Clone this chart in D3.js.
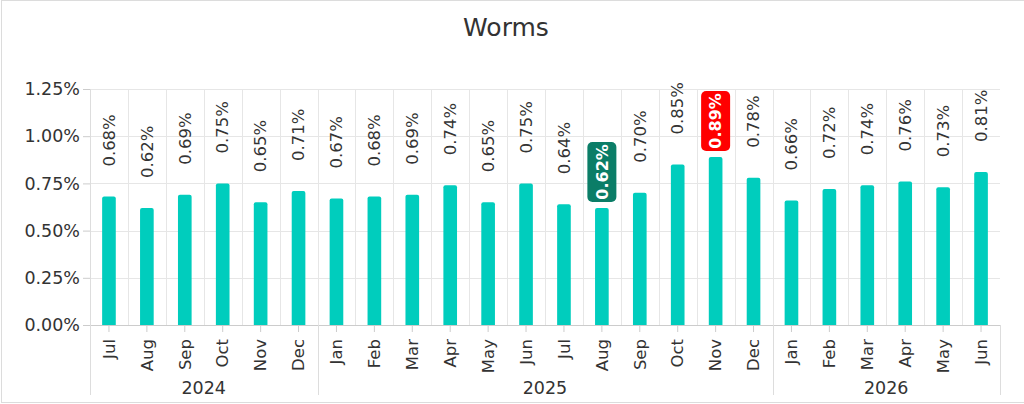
<!DOCTYPE html>
<html><head><meta charset="utf-8">
<script src="https://cdn.jsdelivr.net/npm/d3@7"></script>
<style>
html,body{margin:0;padding:0;background:#fff;}
svg{display:block;font-family:"DejaVu Sans",sans-serif;}
</style></head>
<body>
<svg id="chart" width="1024" height="404"></svg>
<script>
const title = "Worms";
const months = ["Jul","Aug","Sep","Oct","Nov","Dec","Jan","Feb","Mar","Apr","May","Jun","Jul","Aug","Sep","Oct","Nov","Dec","Jan","Feb","Mar","Apr","May","Jun"];
const years = ["2024","2024","2024","2024","2024","2024","2025","2025","2025","2025","2025","2025","2025","2025","2025","2025","2025","2025","2026","2026","2026","2026","2026","2026"];
const values = [0.68,0.62,0.69,0.75,0.65,0.71,0.67,0.68,0.69,0.74,0.65,0.75,0.64,0.62,0.70,0.85,0.89,0.78,0.66,0.72,0.74,0.76,0.73,0.81];
const yTicks = [0,0.25,0.5,0.75,1.0,1.25];
const lowIndex = 13;   // highlighted minimum (green)
const highIndex = 16;  // highlighted maximum (red)

const W = 1024, H = 404;
const m = {left:90, right:24, top:89, bottom:79};
const svg = d3.select("#chart");
const ids = months.map((d,i)=>i);

svg.append("rect").attr("x",1.5).attr("y",0.5).attr("width",1040).attr("height",402)
  .attr("fill","none").attr("stroke","#dcdcdc");

const x = d3.scaleBand().domain(ids).range([m.left, W-m.right]).paddingInner(0.64).paddingOuter(0.32);
const y = d3.scaleLinear().domain([0,1.25]).range([H-m.bottom, m.top]);
const step = x.step();
const slotLeft = i => x(i) - step*0.32;

svg.append("text").attr("x",506).attr("y",36).attr("text-anchor","middle")
  .attr("font-size",25).attr("fill","#333").text(title);

// horizontal gridlines
svg.append("g").selectAll("line").data(yTicks.filter(t=>t>0)).join("line")
  .attr("x1",m.left).attr("x2",W-m.right).attr("y1",d=>Math.round(y(d))+0.5).attr("y2",d=>Math.round(y(d))+0.5)
  .attr("stroke","#e6e6e6");
// vertical gridlines between categories
svg.append("g").selectAll("line").data(ids).join("line")
  .attr("x1",d=>Math.round(slotLeft(d))+0.5).attr("x2",d=>Math.round(slotLeft(d))+0.5)
  .attr("y1",m.top).attr("y2",H-m.bottom).attr("stroke","#e6e6e6");

// y axis
const yAxis = svg.append("g").attr("transform",`translate(${m.left},0)`)
  .call(d3.axisLeft(y).tickValues(yTicks).tickFormat(d=>d3.format(".2f")(d)+"%").tickSize(7).tickPadding(3));
yAxis.select(".domain").remove();
yAxis.selectAll("line").attr("stroke","#ccc");
yAxis.selectAll("text").attr("font-size",17.5).attr("fill","#333").attr("font-family","DejaVu Sans");

// x axis
const xAxis = svg.append("g").attr("transform",`translate(0,${H-m.bottom})`)
  .call(d3.axisBottom(x).tickFormat(i=>months[i]).tickSize(7).tickSizeOuter(0));
xAxis.select(".domain").attr("stroke","#ccc");
xAxis.selectAll("line").attr("stroke","#ccc");
xAxis.selectAll("text").attr("font-size",16.5).attr("fill","#333").attr("font-family","DejaVu Sans")
  .attr("text-anchor","end").attr("transform","rotate(-90)")
  .attr("x",-14).attr("y",0).attr("dy","0.35em");

// year group separators and labels
const groups = d3.groups(ids, i=>years[i]);
const bounds = [m.left];
groups.forEach(([yr, idx])=>{ bounds.push(slotLeft(idx[idx.length-1])+step); });
svg.append("g").selectAll("line").data(bounds).join("line")
  .attr("x1",d=>Math.round(d)+0.5).attr("x2",d=>Math.round(d)+0.5)
  .attr("y1",(d,i)=> i===0 ? m.top : H-m.bottom).attr("y2",395).attr("stroke","#ddd");
svg.append("g").selectAll("text").data(groups).join("text")
  .attr("x",([yr,idx])=>(slotLeft(idx[0]) + slotLeft(idx[idx.length-1])+step)/2)
  .attr("y",394).attr("text-anchor","middle").attr("font-size",17.5).attr("fill","#333")
  .text(([yr])=>yr);

// bars with rounded tops
const r = 2;
svg.append("g").selectAll("path").data(ids).join("path")
  .attr("fill","#00cdbd")
  .attr("d", i=>{
    const x0 = x(i), w = x.bandwidth(), y0 = y(values[i]), yb = y(0);
    return `M${x0},${yb}V${y0+r}Q${x0},${y0} ${x0+r},${y0}H${x0+w-r}Q${x0+w},${y0} ${x0+w},${y0+r}V${yb}Z`;
  });

// data labels
const fmt = v => d3.format(".2f")(v)+"%";
const cx = i => x(i)+x.bandwidth()/2;
svg.append("g").selectAll("text").data(ids.filter(i=>i!==lowIndex && i!==highIndex)).join("text")
  .attr("transform", i=>`translate(${cx(i)},${y(values[i])-30}) rotate(-90)`)
  .attr("dy","0.35em").attr("font-size",16.5).attr("fill","#333").text(i=>fmt(values[i]));

const special = [{i:lowIndex, color:"#0b7d67"},{i:highIndex, color:"#ff0000"}];
const sg = svg.append("g").selectAll("g").data(special).join("g")
  .attr("transform", d=>`translate(${cx(d.i)},${y(values[d.i])-6})`);
sg.append("rect").attr("x",-14.5).attr("y",-60).attr("width",29).attr("height",60).attr("rx",5)
  .attr("fill",d=>d.color);
sg.append("text").attr("transform","translate(0,-30) rotate(-90)").attr("text-anchor","middle")
  .attr("dy","0.36em").attr("font-size",16).attr("font-weight","bold").attr("fill","#fff")
  .text(d=>fmt(values[d.i]));
</script>
</body></html>
